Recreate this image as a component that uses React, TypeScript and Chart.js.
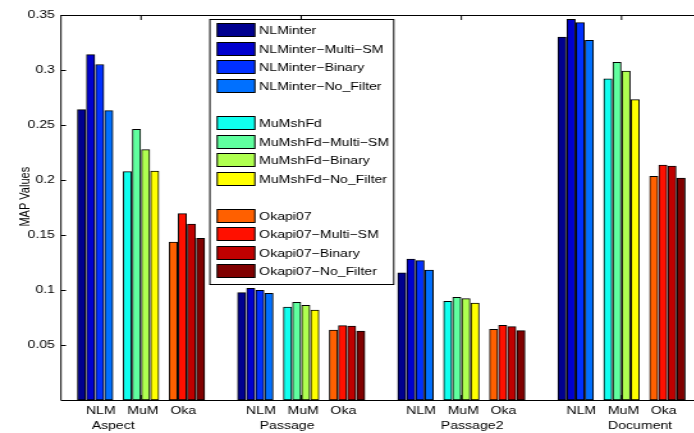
import React, { useEffect, useRef } from 'react';
import { Chart, registerables } from 'chart.js';

Chart.register(...registerables);

// Query sets along the x axis, and the three retrieval families shown in each set
const GROUPS = ['Aspect', 'Passage', 'Passage2', 'Document'];
const METHOD_TICK = 'NLM   MuM   Oka';
const Y_TICK_LABELS = ['', '0.05', '0.1', '0.15', '0.2', '0.25', '0.3', '0.35'];
const Y_TITLE = 'MAP Values';

const SERIES_NAMES = [
  'NLMinter', 'NLMinter−Multi−SM', 'NLMinter−Binary', 'NLMinter−No_Filter',
  'MuMshFd', 'MuMshFd−Multi−SM', 'MuMshFd−Binary', 'MuMshFd−No_Filter',
  'Okapi07', 'Okapi07−Multi−SM', 'Okapi07−Binary', 'Okapi07−No_Filter',
];

// MAP per query set: Aspect, Passage, Passage2, Document
const NLMINTER = [0.264, 0.0976, 0.1155, 0.330];
const NLMINTER_MULTI_SM = [0.314, 0.1015, 0.128, 0.346];
const NLMINTER_BINARY = [0.305, 0.0997, 0.1267, 0.343];
const NLMINTER_NO_FILTER = [0.263, 0.097, 0.118, 0.327];
const MUMSHFD = [0.2076, 0.0845, 0.0897, 0.292];
const MUMSHFD_MULTI_SM = [0.246, 0.0888, 0.0933, 0.307];
const MUMSHFD_BINARY = [0.2276, 0.086, 0.0921, 0.299];
const MUMSHFD_NO_FILTER = [0.208, 0.0818, 0.0882, 0.273];
const OKAPI07 = [0.1436, 0.0636, 0.0642, 0.2033];
const OKAPI07_MULTI_SM = [0.1694, 0.0676, 0.0679, 0.2136];
const OKAPI07_BINARY = [0.160, 0.0673, 0.0667, 0.2127];
const OKAPI07_NO_FILTER = [0.147, 0.0627, 0.063, 0.2018];

const SERIES_VALUES = [
  NLMINTER, NLMINTER_MULTI_SM, NLMINTER_BINARY, NLMINTER_NO_FILTER,
  MUMSHFD, MUMSHFD_MULTI_SM, MUMSHFD_BINARY, MUMSHFD_NO_FILTER,
  OKAPI07, OKAPI07_MULTI_SM, OKAPI07_BINARY, OKAPI07_NO_FILTER,
];

const SERIES_COLORS = [
  '#00008F', '#0000CF', '#0030FF', '#0070FF',
  '#10FFEF', '#60FF9F', '#AFFF50', '#FFFF00',
  '#FF6000', '#FF1000', '#BF0000', '#800000',
];

// Layout (drawing units; the canvas is shown stretched horizontally by SX)
const SX = 1.28;
const W = 555;
const H = 433;
const FONT = '"Liberation Sans", Arial, Helvetica, sans-serif';
const FAMILY_STEP = 0.2865; // spacing of the NLM / MuM / Oka clusters, in group units
const BAR_STEP = 0.0568; // spacing of bars inside a cluster
const NAME_SHIFT = [-0.174, -0.088, 0.067, 0.116];

function barX(group: number, series: number): number {
  const family = Math.floor(series / 4);
  const variant = series % 4;
  return group + 1 + (family - 1) * FAMILY_STEP + (variant - 1.5) * BAR_STEP;
}

const decorations = {
  id: 'decorations',
  afterDraw(chart: any) {
    const { ctx, chartArea: a, scales } = chart;
    const crisp = (v: number) => Math.round(v) + 0.5;
    ctx.save();
    ctx.strokeStyle = '#000';
    ctx.lineWidth = 1;

    // axes box (the right side falls outside the visible page)
    ctx.beginPath();
    ctx.moveTo(a.left, crisp(a.top));
    ctx.lineTo(a.right, crisp(a.top));
    ctx.moveTo(a.left, crisp(a.bottom));
    ctx.lineTo(a.right, crisp(a.bottom));
    ctx.moveTo(a.left, a.top);
    ctx.lineTo(a.left, a.bottom);
    ctx.stroke();

    // inward tick marks
    const tickLen = 5;
    ctx.beginPath();
    scales.y.ticks.forEach((t: any) => {
      const y = crisp(scales.y.getPixelForValue(t.value));
      ctx.moveTo(a.left, y);
      ctx.lineTo(a.left + tickLen / SX, y);
    });
    GROUPS.forEach((_, i) => {
      const x = scales.x.getPixelForValue(i + 1);
      ctx.moveTo(x, a.bottom);
      ctx.lineTo(x, a.bottom - tickLen);
      ctx.moveTo(x, a.top);
      ctx.lineTo(x, a.top + tickLen);
    });
    ctx.stroke();

    // y axis title
    ctx.save();
    ctx.translate(19.6, 196.7);
    ctx.rotate(-Math.PI / 2);
    ctx.fillStyle = '#000';
    ctx.font = `11px ${FONT}`;
    ctx.textAlign = 'center';
    ctx.textBaseline = 'middle';
    ctx.fillText(Y_TITLE, 0, 0);
    ctx.restore();

    // legend
    const boxL = 210 / SX;
    const boxR = 394 / SX;
    const boxT = 19.5;
    const boxB = 284.5;
    ctx.fillStyle = '#fff';
    ctx.fillRect(boxL, boxT, boxR - boxL, boxB - boxT);
    ctx.strokeRect(boxL, boxT, boxR - boxL, boxB - boxT);
    const swL = 217.3 / SX;
    const swW = 37.7 / SX;
    const textL = 259.3 / SX;
    const rowStep = 18.55;
    const swH = 13;
    ctx.font = `11px ${FONT}`;
    ctx.textAlign = 'left';
    ctx.textBaseline = 'middle';
    chart.data.datasets.forEach((ds: any, i: number) => {
      const row = i + Math.floor(i / 4);
      const top = Math.round(23.3 + row * rowStep) + 0.5;
      ctx.fillStyle = ds.backgroundColor;
      ctx.fillRect(swL, top, swW, swH);
      ctx.strokeRect(swL, top, swW, swH);
      ctx.fillStyle = '#000';
      ctx.fillText(ds.label, textL, top + swH / 2 + 0.5);
    });

    ctx.restore();
  },
};

export default function App() {
  const canvasRef = useRef<HTMLCanvasElement | null>(null);

  useEffect(() => {
    const canvas = canvasRef.current;
    if (!canvas) return;

    const datasets = SERIES_NAMES.map((name, s) => ({
      label: name,
      data: SERIES_VALUES[s].map((v, g) => ({ x: barX(g, s), y: v })),
      backgroundColor: SERIES_COLORS[s],
      borderColor: '#000',
      borderWidth: 1,
      borderSkipped: false,
      grouped: false,
      barThickness: 8.2 / SX,
    }));

    const chart = new Chart(canvas, {
      type: 'bar',
      data: { datasets },
      options: {
        animation: false,
        responsive: false,
        events: [],
        font: { family: FONT, size: 11 },
        layout: { padding: { left: 0, right: W - 702 / SX, top: 15, bottom: 0 } },
        plugins: { legend: { display: false }, tooltip: { enabled: false } },
        scales: {
          x: {
            type: 'linear',
            min: 0.5,
            max: 4.5,
            offset: false,
            position: 'bottom',
            weight: 0,
            grid: { display: false, drawTicks: false, offset: false },
            border: { display: false },
            afterBuildTicks: (s: any) => {
              s.ticks = GROUPS.map((_, i) => ({ value: i + 1 }));
            },
            afterFit: (s: any) => {
              s.height = 17;
            },
            ticks: {
              autoSkip: false,
              maxRotation: 0,
              padding: 4.6,
              color: '#000',
              font: { family: FONT, size: 11 },
              callback: () => METHOD_TICK,
            },
          },
          names: {
            type: 'linear',
            min: 0.5,
            max: 4.5,
            offset: false,
            position: 'bottom',
            weight: 1,
            grid: { display: false, drawTicks: false },
            border: { display: false },
            afterBuildTicks: (s: any) => {
              s.ticks = GROUPS.map((_, i) => ({ value: i + 1 + NAME_SHIFT[i] }));
            },
            afterFit: (s: any) => {
              s.height = 16;
            },
            ticks: {
              autoSkip: false,
              maxRotation: 0,
              padding: 2.4,
              color: '#000',
              font: { family: FONT, size: 11 },
              callback: (_v: any, i: number) => GROUPS[i],
            },
          },
          y: {
            min: 0,
            max: 0.35,
            grid: { display: false, drawTicks: false },
            border: { display: false },
            afterFit: (s: any) => {
              s.width = 61 / SX;
            },
            ticks: {
              stepSize: 0.05,
              padding: 4.7,
              color: '#000',
              font: { family: FONT, size: 11 },
              callback: (_v: any, i: number) => Y_TICK_LABELS[i] ?? '',
            },
          },
        },
      } as any,
      plugins: [decorations],
    });

    return () => chart.destroy();
  }, []);

  return (
    <div
      style={{
        position: 'fixed',
        left: 0,
        top: 0,
        width: 694,
        height: 433,
        overflow: 'hidden',
        background: '#fff',
      }}
    >
      <canvas
        ref={canvasRef}
        width={W}
        height={H}
        style={{ width: `${W * SX}px`, height: `${H}px`, display: 'block' }}
      />
    </div>
  );
}
